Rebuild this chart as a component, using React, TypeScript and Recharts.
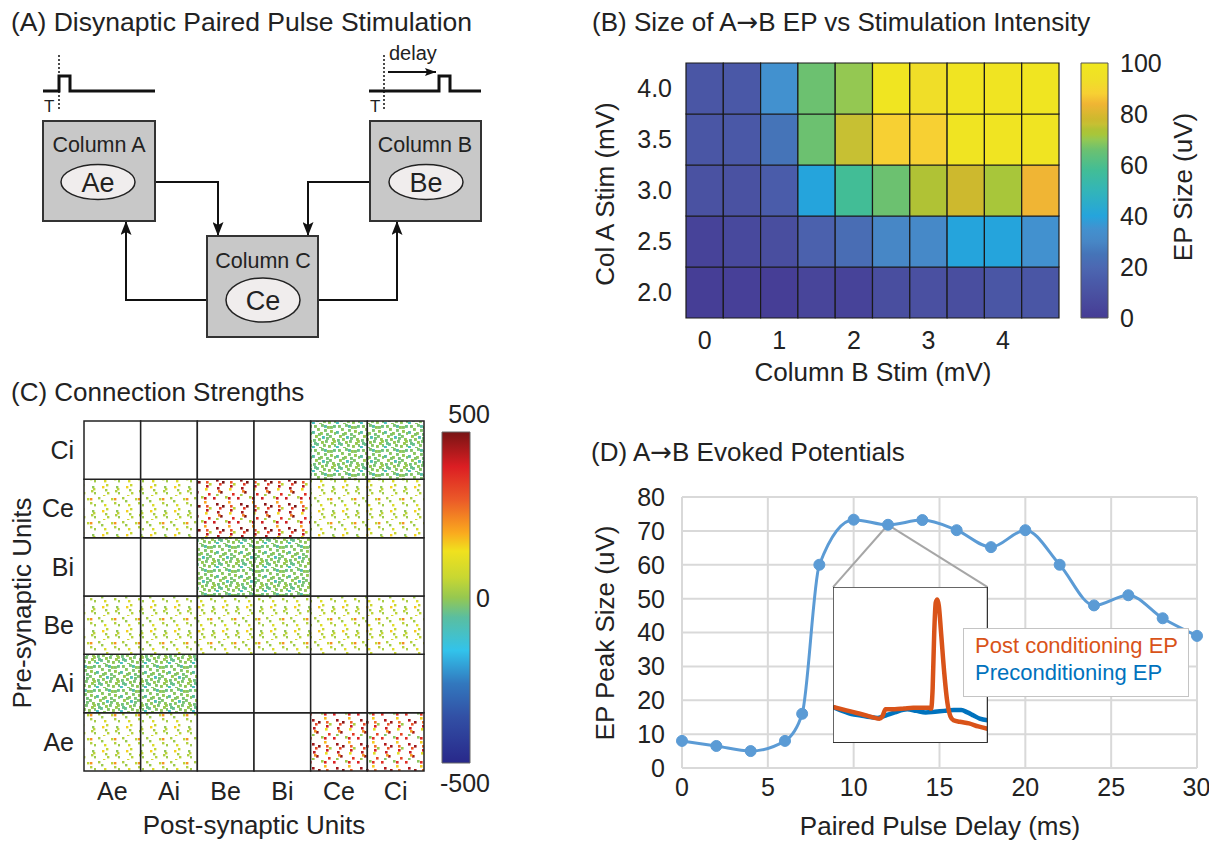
import React from 'react'
import {
  ScatterChart, Scatter, LineChart, Line, BarChart, Bar, XAxis, YAxis,
  CartesianGrid, ReferenceArea, ReferenceLine,
} from 'recharts'

const FONT = '"Liberation Sans", Arial, Helvetica, sans-serif'
const INK = '#222'

// ---- (B) EP size vs stimulation intensity ----
const colBStim = [0, 0.5, 1, 1.5, 2, 2.5, 3, 3.5, 4, 4.5]
const colAStim = [2.0, 2.5, 3.0, 3.5, 4.0]
// one row per Col A stim value (2.0 -> 4.0), one value per Column B stim
const epSize = [
  [1, 2, 1, 4, 3, 8, 9, 8, 12, 12],
  [3, 6, 8, 17, 22, 30, 31, 40, 40, 35],
  [10, 10, 15, 40, 58, 66, 74, 78, 72, 84],
  [12, 13, 25, 66, 76, 88, 88, 97, 97, 97],
  [12, 13, 35, 66, 70, 98, 93, 97, 97, 98],
]
const stimXTicks = [0, 1, 2, 3, 4]
const stimYTicks = [2, 2.5, 3, 3.5, 4]
const epSizeTicks = [0, 20, 40, 60, 80, 100]

// ---- (C) connection strengths ----
const units = ['Ae', 'Ai', 'Be', 'Bi', 'Ce', 'Ci']
// mean weight, row = pre-synaptic unit (Ae..Ci), column = post-synaptic unit (Ae..Ci)
const connWeights = [
  [25, 25, 0, 0, 330, 310],
  [-15, -15, 0, 0, 0, 0],
  [25, 25, 25, 25, 35, 35],
  [0, 0, -15, -15, 0, 0],
  [25, 25, 350, 350, 25, 25],
  [0, 0, 0, 0, -15, -15],
]
const strengthTicks = [-500, 0, 500]

// ---- (D) A->B evoked potentials ----
const delayMs = [0, 2, 4, 6, 7, 8, 10, 12, 14, 16, 18, 20, 22, 24, 26, 28, 30]
const epPeak = [8, 6.5, 5, 8, 16, 60, 73.3, 71.8, 73.2, 70.2, 65.2, 70.2, 60, 48, 51, 44.2, 39]
const delayTicks = [0, 5, 10, 15, 20, 25, 30]
const peakTicks = [0, 10, 20, 30, 40, 50, 60, 70, 80]
const zoomDelay = 12

// inset traces (arbitrary time / amplitude units)
const postTime = [0, 8, 16, 22, 27, 30, 32, 34, 40, 46, 52, 58, 62, 63.5, 64.5, 65.5, 66.5, 67.5, 68.5, 70, 72, 74, 76, 78, 82, 88, 94, 100]
const postAmp = [23, 21, 19, 17.5, 16, 15.4, 17, 21.5, 21.5, 22, 22.5, 22.5, 22.5, 22, 35, 70, 90, 92, 88, 70, 45, 26, 17, 14.5, 13.5, 12.5, 10.5, 9]
const preTime = [0, 6, 12, 18, 24, 29, 34, 40, 48, 54, 60, 66, 72, 78, 83, 87, 91, 95, 100]
const preAmp = [23, 20.5, 18.5, 17.5, 16.5, 16, 17.5, 19.5, 21.5, 20.5, 19.5, 20, 20.5, 21, 21, 19.5, 17.5, 15.5, 14.5]
const insetXTicks = [10, 30, 50, 70, 90]
const insetYTicks = [20, 40, 60, 80]
const insetSeries = [
  { name: 'Post conditioning EP', color: '#D95319' },
  { name: 'Preconditioning EP', color: '#0072BD' },
]

// ---- colour maps ----
const parulaStops: [number, string][] = [
  [0, '#463C95'], [10, '#4A52A2'], [15, '#4A5CAA'], [20, '#4C68B2'], [25, '#4574B8'],
  [30, '#4787C6'], [35, '#4291CF'], [40, '#25A4DC'], [50, '#33B5B8'], [58, '#42BD96'],
  [66, '#6CC170'], [70, '#94C852'], [72, '#A8C63A'], [74, '#B0C235'], [76, '#C7C033'],
  [78, '#CDB92E'], [84, '#F0B534'], [88, '#F7D033'], [93, '#F0DE28'], [100, '#F0E81E'],
]
const jetStops: [number, string][] = [
  [-500, '#28288A'], [-360, '#3250A5'], [-260, '#3278BE'], [-160, '#32C3EB'], [-60, '#5ABEA0'],
  [0, '#96C850'], [60, '#C8D732'], [140, '#F0E11E'], [195, '#FAAA1E'], [295, '#EB5A28'],
  [395, '#DC1E23'], [500, '#781414'],
]

function hexRgb(h: string) {
  const n = parseInt(h.slice(1), 16)
  return [(n >> 16) & 255, (n >> 8) & 255, n & 255]
}

function mapColor(stops: [number, string][], v: number) {
  if (v <= stops[0][0]) return stops[0][1]
  for (let i = 1; i < stops.length; i++) {
    const [v1, c1] = stops[i]
    if (v <= v1) {
      const [v0, c0] = stops[i - 1]
      const t = (v - v0) / (v1 - v0)
      const a = hexRgb(c0)
      const b = hexRgb(c1)
      return `rgb(${a.map((x, k) => Math.round(x + (b[k] - x) * t)).join(',')})`
    }
  }
  return stops[stops.length - 1][1]
}

// speckle texture (24px tile) used to suggest the per-synapse scatter in (C)
const SPECK_XY = [
  [2, 1], [9, 0], [15, 2], [21, 1], [5, 4], [12, 5], [18, 6], [0, 7], [8, 8], [14, 9], [22, 8], [3, 11],
  [10, 12], [17, 11], [20, 14], [1, 15], [6, 14], [13, 16], [19, 18], [4, 19], [11, 20], [16, 21], [22, 20], [0, 22],
  [7, 23], [14, 13], [9, 17], [2, 18], [18, 2], [6, 9], [21, 16], [12, 1],
]
const INH_JITTER = [0, -10, 10, -25, 5, -5, 15, -45, 10, -15, 0, 20, -70, -5, 10, -20, 5, -10, 20, -30, 0, 10, -10, -90, 5, -15, 15, -30, 0, -5, 20, -50]
const EXC_JITTER = [0, 25, -20, 10, 70, -10, 35, -30, 130, 5, 15, -15, 50, -5, 200, 20]
const STRONG_JITTER = [-320, 60, -150, 130, -40, 0, -300, 100, -200, 140, 20, -330, 80, -100, 150, 60]

function speckles(w: number) {
  if (w < 0) return SPECK_XY.map((p, i) => ({ p, c: mapColor(jetStops, w + INH_JITTER[i]), s: 2.9 }))
  if (w < 150) return SPECK_XY.filter((_, i) => i % 2 === 0).map((p, i) => ({ p, c: mapColor(jetStops, w + EXC_JITTER[i]), s: 2.4 }))
  return SPECK_XY.filter((_, i) => i % 2 === 1).map((p, i) => ({ p, c: mapColor(jetStops, w + STRONG_JITTER[i]), s: 2.6 }))
}

const tickFont = { fontSize: 25, fill: INK, fontFamily: FONT }

function Txt({ x, y, children, size = 26, rotate = false, align = 'center', color = INK }: any) {
  const tx = align === 'center' ? '-50%' : '0'
  return (
    <div
      style={{
        position: 'absolute', left: x, top: y, fontSize: size, lineHeight: 1, whiteSpace: 'nowrap', color,
        transform: `translate(${tx}, -50%)${rotate ? ' rotate(-90deg)' : ''}`,
      }}
    >
      {children}
    </div>
  )
}

function Arrow() {
  return <span style={{ fontFamily: '"DejaVu Sans", sans-serif' }}>→</span>
}

function Hidden() {
  return <g />
}

// ---- (A) schematic ----
function PanelA() {
  const box = { fill: '#c8c8c8', stroke: '#333', strokeWidth: 2 }
  const cell = { fill: '#f0eded', stroke: '#222', strokeWidth: 1.5 }
  const wire = { fill: 'none', stroke: '#111', strokeWidth: 2, markerEnd: 'url(#arrowHead)' }
  return (
    <svg width={500} height={360} style={{ position: 'absolute', left: 0, top: 0 }} fontFamily={FONT}>
      <defs>
        <marker id="arrowHead" markerUnits="userSpaceOnUse" markerWidth={14} markerHeight={11} viewBox="0 0 14 11" refX={14} refY={5.5} orient="auto">
          <path d="M0,0 L14,5.5 L0,11 L3,5.5 z" fill="#111" />
        </marker>
        <marker id="arrowSmall" markerUnits="userSpaceOnUse" markerWidth={11} markerHeight={8} viewBox="0 0 11 8" refX={11} refY={4} orient="auto">
          <path d="M0,0 L11,4 L0,8 L2,4 z" fill="#111" />
        </marker>
      </defs>
      {/* stimulus pulses */}
      <path d="M43 91 H59 V76 H70 V91 H155" fill="none" stroke="#111" strokeWidth={3} />
      <line x1={59} y1={55} x2={59} y2={109} stroke="#111" strokeWidth={1.5} strokeDasharray="2 2" />
      <text x={44} y={112} fontSize={17} fill={INK}>T</text>
      <path d="M369 91 H439 V76 H450 V91 H481" fill="none" stroke="#111" strokeWidth={3} />
      <line x1={384} y1={55} x2={384} y2={109} stroke="#111" strokeWidth={1.5} strokeDasharray="2 2" />
      <text x={370} y={112} fontSize={17} fill={INK}>T</text>
      <line x1={388} y1={72} x2={436} y2={72} stroke="#111" strokeWidth={2} markerEnd="url(#arrowSmall)" />
      <text x={389} y={60} fontSize={20} fill={INK}>delay</text>

      {/* connections */}
      <path d="M135 182 H218 V236" {...wire} />
      <path d="M390 182 H308 V236" {...wire} />
      <path d="M226 300 H126 V221" {...wire} />
      <path d="M300 300 H397 V221" {...wire} />

      {/* columns */}
      <rect x={43} y={121} width={112} height={100} {...box} />
      <text x={99} y={152} fontSize={21.5} textAnchor="middle" fill={INK}>Column A</text>
      <ellipse cx={98} cy={182} rx={37} ry={17.5} {...cell} />
      <text x={98} y={192} fontSize={27} textAnchor="middle" fill={INK}>Ae</text>

      <rect x={370} y={121} width={111} height={100} {...box} />
      <text x={425} y={152} fontSize={21.5} textAnchor="middle" fill={INK}>Column B</text>
      <ellipse cx={426} cy={182} rx={37} ry={17.5} {...cell} />
      <text x={426} y={192} fontSize={27} textAnchor="middle" fill={INK}>Be</text>

      <rect x={207} y={236} width={111} height={101} {...box} />
      <text x={263} y={268} fontSize={21.5} textAnchor="middle" fill={INK}>Column C</text>
      <ellipse cx={263} cy={300} rx={37} ry={22} {...cell} />
      <text x={263} y={310} fontSize={27} textAnchor="middle" fill={INK}>Ce</text>
    </svg>
  )
}

// ---- (B) heatmap ----
function HeatmapB() {
  const cells = colAStim.flatMap((a, r) => colBStim.map((b, c) => ({ b, a, ep: epSize[r][c] })))
  const halfX = (colBStim[1] - colBStim[0]) / 2
  const halfY = (colAStim[1] - colAStim[0]) / 2
  return (
    <ScatterChart width={480} height={328} margin={{ top: 23, right: 1, bottom: 0, left: 0 }}>
      <XAxis type="number" dataKey="b" domain={[colBStim[0] - halfX, colBStim[colBStim.length - 1] + halfX]} ticks={stimXTicks}
        tickLine={false} axisLine={false} tickSize={0} tickMargin={13} height={50} tick={tickFont} allowDataOverflow />
      <YAxis type="number" dataKey="a" domain={[colAStim[0] - halfY, colAStim[colAStim.length - 1] + halfY]} ticks={stimYTicks}
        tickFormatter={(v: number) => v.toFixed(1)} tickLine={false} axisLine={false} tickSize={0} tickMargin={14} width={106} tick={tickFont} allowDataOverflow />
      <Scatter data={cells} isAnimationActive={false} shape={Hidden} />
      {cells.map((c, i) => (
        <ReferenceArea key={i} x1={c.b - halfX} x2={c.b + halfX} y1={c.a - halfY} y2={c.a + halfY}
          fill={mapColor(parulaStops, c.ep)} fillOpacity={1} stroke="#1a1a1a" strokeWidth={1.2} />
      ))}
    </ScatterChart>
  )
}

function ColorbarB() {
  return (
    <BarChart width={110} height={298} data={[{ name: 'ep', range: [0, 100] }]} margin={{ top: 23, right: 0, bottom: 20, left: 21 }} barCategoryGap={0}>
      <defs>
        <linearGradient id="parulaGrad" x1="0" y1="1" x2="0" y2="0">
          {parulaStops.map(([v, c]) => <stop key={v} offset={v / 100} stopColor={c} />)}
        </linearGradient>
      </defs>
      <XAxis dataKey="name" hide />
      <YAxis orientation="right" type="number" domain={[0, 100]} ticks={epSizeTicks} width={62}
        tickLine={false} axisLine={false} tickSize={0} tickMargin={12} tick={tickFont} />
      <Bar dataKey="range" fill="url(#parulaGrad)" stroke="#555" strokeWidth={1} isAnimationActive={false} />
    </BarChart>
  )
}

// ---- (C) connection matrix ----
function MatrixC() {
  const cells = units.flatMap((_, r) => units.map((__, c) => ({ post: c, pre: r, w: connWeights[r][c] })))
  const idx = units.map((_, i) => i)
  const dom: [number, number] = [-0.5, units.length - 0.5]
  const inner = { tick: false as const, tickSize: 4, axisLine: false, stroke: '#333' }
  return (
    <ScatterChart width={425} height={420} margin={{ top: 21, right: 1, bottom: 0, left: 0 }}>
      <defs>
        {cells.filter((c) => c.w !== 0).map((c) => (
          <pattern key={`${c.pre}-${c.post}`} id={`spk-${c.pre}-${c.post}`} patternUnits="userSpaceOnUse" width={24} height={24}>
            <rect width={24} height={24} fill="#fff" />
            {speckles(c.w).map((d, i) => <rect key={i} x={d.p[0]} y={d.p[1]} width={d.s} height={d.s} fill={d.c} />)}
          </pattern>
        ))}
      </defs>
      <XAxis type="number" dataKey="post" domain={dom} ticks={idx} tickFormatter={(v: number) => units[v]}
        tickLine={false} axisLine={false} tickSize={0} tickMargin={11} height={49} tick={tickFont} />
      <XAxis xAxisId="top" orientation="top" type="number" domain={dom} ticks={idx} mirror height={1} {...inner} />
      <XAxis xAxisId="inB" orientation="bottom" type="number" domain={dom} ticks={idx} mirror height={1} {...inner} />
      <YAxis type="number" dataKey="pre" domain={dom} ticks={idx} tickFormatter={(v: number) => units[v]}
        tickLine={false} axisLine={false} tickSize={0} tickMargin={10} width={84} tick={tickFont} />
      <YAxis yAxisId="inL" orientation="left" type="number" domain={dom} ticks={idx} mirror width={1} {...inner} />
      <YAxis yAxisId="right" orientation="right" type="number" domain={dom} ticks={idx} mirror width={1} {...inner} />
      <Scatter data={cells} isAnimationActive={false} shape={Hidden} />
      {cells.map((c, i) => (
        <ReferenceArea key={i} x1={c.post - 0.5} x2={c.post + 0.5} y1={c.pre - 0.5} y2={c.pre + 0.5}
          fill={c.w === 0 ? '#fff' : `url(#spk-${c.pre}-${c.post})`} fillOpacity={1} stroke="#222" strokeWidth={1.5} />
      ))}
    </ScatterChart>
  )
}

function StrengthTick({ x, y, payload }: any) {
  const v = payload.value
  const dy = v > 0 ? -18 : v < 0 ? 20 : 0
  return (
    <text x={x + 20} y={y + dy} textAnchor="end" dominantBaseline="central" fontSize={25} fill={INK} fontFamily={FONT}>
      {v}
    </text>
  )
}

function ColorbarC() {
  return (
    <BarChart width={100} height={400} data={[{ name: 'w', range: [-500, 500] }]} margin={{ top: 32, right: 0, bottom: 37, left: 22 }} barCategoryGap={0}>
      <defs>
        <linearGradient id="jetGrad" x1="0" y1="1" x2="0" y2="0">
          {jetStops.map(([v, c]) => <stop key={v} offset={(v + 500) / 1000} stopColor={c} />)}
        </linearGradient>
      </defs>
      <XAxis dataKey="name" hide />
      <YAxis orientation="right" type="number" domain={[-500, 500]} ticks={strengthTicks} width={50}
        tickLine={false} axisLine={false} tickSize={0} tickMargin={0} tick={<StrengthTick />} />
      <Bar dataKey="range" fill="url(#jetGrad)" stroke="#666" strokeWidth={1} isAnimationActive={false} />
    </BarChart>
  )
}

// ---- (D) evoked potentials ----
const D_LEFT = 560
const D_TOP = 470
const D_W = 649
const D_H = 343
const D_MARGIN = { top: 27, right: 12, bottom: 0, left: 0 }
const D_YAXIS_W = 122
const D_XAXIS_H = 45
const plotX0 = D_LEFT + D_MARGIN.left + D_YAXIS_W
const plotW = D_W - D_MARGIN.left - D_MARGIN.right - D_YAXIS_W
const plotY0 = D_TOP + D_MARGIN.top
const plotH = D_H - D_MARGIN.top - D_MARGIN.bottom - D_XAXIS_H
const toPx = (x: number) => plotX0 + (x / 30) * plotW
const toPy = (y: number) => plotY0 + (1 - y / 80) * plotH
// inset placement in the main chart's data coordinates
const INSET = { x1: 8.8, x2: 17.8, y1: 7.4, y2: 53.4 }

function ChartD() {
  const data = delayMs.map((d, i) => ({ delay: d, ep: epPeak[i] }))
  const zp = data.find((p) => p.delay === zoomDelay)!
  return (
    <LineChart width={D_W} height={D_H} data={data} margin={D_MARGIN}>
      <CartesianGrid stroke="#d9d9d9" strokeWidth={2} />
      <XAxis type="number" dataKey="delay" domain={[0, 30]} ticks={delayTicks} tickLine={false} axisLine={false}
        tickSize={0} tickMargin={10} height={D_XAXIS_H} tick={tickFont} />
      <YAxis type="number" domain={[0, 80]} ticks={peakTicks} tickLine={false} axisLine={false}
        tickSize={0} tickMargin={17} width={D_YAXIS_W} tick={tickFont} />
      <ReferenceLine segment={[{ x: zp.delay, y: zp.ep }, { x: INSET.x1, y: INSET.y2 }]} stroke="#a6a6a6" strokeWidth={2} />
      <ReferenceLine segment={[{ x: zp.delay, y: zp.ep }, { x: INSET.x2, y: INSET.y2 }]} stroke="#a6a6a6" strokeWidth={2} />
      <Line type="monotone" dataKey="ep" stroke="#5B9BD5" strokeWidth={3} isAnimationActive={false}
        dot={{ r: 5.5, fill: '#5B9BD5', stroke: '#5B9BD5', strokeWidth: 1 }} />
    </LineChart>
  )
}

function InsetD({ w, h }: { w: number; h: number }) {
  const post = postTime.map((t, i) => ({ t, v: postAmp[i] }))
  const pre = preTime.map((t, i) => ({ t, v: preAmp[i] }))
  const box = { tick: false as const, tickSize: 4, stroke: '#333', axisLine: { stroke: '#333', strokeWidth: 1.5 } }
  return (
    <LineChart width={w} height={h} margin={{ top: 0, right: 0, bottom: 0, left: 0 }}>
      <XAxis type="number" dataKey="t" domain={[0, 100]} ticks={insetXTicks} mirror height={1} allowDataOverflow {...box} />
      <XAxis xAxisId="top" orientation="top" type="number" domain={[0, 100]} ticks={insetXTicks} mirror height={1} {...box} />
      <YAxis type="number" domain={[0, 100]} ticks={insetYTicks} mirror width={1} allowDataOverflow {...box} />
      <YAxis yAxisId="right" orientation="right" type="number" domain={[0, 100]} ticks={insetYTicks} mirror width={1} {...box} />
      <Line data={pre} dataKey="v" name={insetSeries[1].name} type="monotone" stroke={insetSeries[1].color} strokeWidth={4.5} dot={false} isAnimationActive={false} />
      <Line data={post} dataKey="v" name={insetSeries[0].name} type="monotone" stroke={insetSeries[0].color} strokeWidth={4.5} dot={false} isAnimationActive={false} />
    </LineChart>
  )
}

export default function App() {
  const inL = toPx(INSET.x1)
  const inT = toPy(INSET.y2)
  const inW = toPx(INSET.x2) - inL
  const inH = toPy(INSET.y1) - inT
  return (
    <div style={{ position: 'absolute', left: 0, top: 0, width: 1221, height: 841, background: '#fff', fontFamily: FONT, color: INK, overflow: 'hidden' }}>
      {/* (A) */}
      <Txt x={11} y={22} align="left" size={26.5}>(A) Disynaptic Paired Pulse Stimulation</Txt>
      <PanelA />

      {/* (B) */}
      <Txt x={592} y={22} align="left">(B) Size of A<Arrow />B EP vs Stimulation Intensity</Txt>
      <div style={{ position: 'absolute', left: 580, top: 40 }}><HeatmapB /></div>
      <div style={{ position: 'absolute', left: 1060, top: 40 }}><ColorbarB /></div>
      <Txt x={605} y={194} rotate>Col A Stim (mV)</Txt>
      <Txt x={873} y={372}>Column B Stim (mV)</Txt>
      <Txt x={1183} y={187} rotate>EP Size (uV)</Txt>

      {/* (C) */}
      <Txt x={11} y={392} align="left">(C) Connection Strengths</Txt>
      <div style={{ position: 'absolute', left: 0, top: 400 }}><MatrixC /></div>
      <div style={{ position: 'absolute', left: 420, top: 400 }}><ColorbarC /></div>
      <Txt x={22} y={603} rotate>Pre-synaptic Units</Txt>
      <Txt x={254} y={825}>Post-synaptic Units</Txt>

      {/* (D) */}
      <Txt x={591} y={452} align="left">(D) A<Arrow />B Evoked Potentials</Txt>
      <div style={{ position: 'absolute', left: D_LEFT, top: D_TOP }}><ChartD /></div>
      <div style={{ position: 'absolute', left: inL, top: inT, width: inW, height: inH, background: '#fff' }}>
        <InsetD w={inW} h={inH} />
      </div>
      <div style={{ position: 'absolute', left: 963, top: 628, width: 226, height: 69, boxSizing: 'border-box', border: '1.5px solid #c4c4c4', background: '#fff', padding: '3px 0 0 11px', fontSize: 22, lineHeight: '27px' }}>
        {insetSeries.map((s) => <div key={s.name} style={{ color: s.color, whiteSpace: 'nowrap' }}>{s.name}</div>)}
      </div>
      <Txt x={605} y={633} rotate>EP Peak Size (uV)</Txt>
      <Txt x={940} y={826}>Paired Pulse Delay (ms)</Txt>
    </div>
  )
}
